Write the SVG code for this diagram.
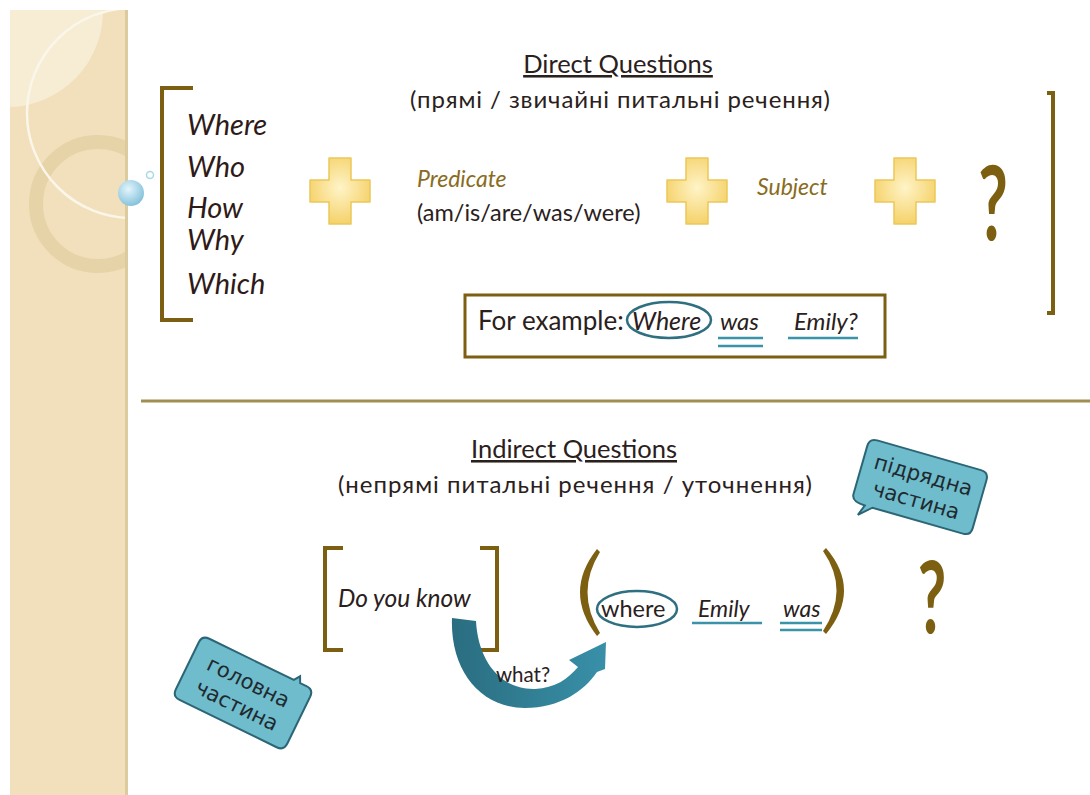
<svg xmlns="http://www.w3.org/2000/svg" width="1090" height="795" viewBox="0 0 1090 795">
<style>
.en{font-family:Lato,"Open Sans","DejaVu Sans",sans-serif;fill:#2a201c}
.ua{font-family:Lato,"Open Sans","DejaVu Sans",sans-serif;fill:#2a201c}
.it{font-style:italic}
.wh{font-family:Lato,"Open Sans",sans-serif;font-style:italic;font-size:29px;fill:#2e1a18}
.gold{fill:#8a6c1e}
.br{fill:none;stroke:#7d5f12;stroke-width:4}
.ul{stroke:#3a93a8;stroke-width:2.5}
.q{font-family:Lato,"DejaVu Sans",sans-serif;font-weight:bold;fill:#7d5f12}
.bub{fill:#6fbccd;stroke:#2c6676;stroke-width:2}
.bt{font-family:"DejaVu Sans","Open Sans",sans-serif;font-size:21px;fill:#1f2a2e}
</style>
<defs>
<radialGradient id="plusg" cx="50%" cy="45%" r="60%">
<stop offset="0" stop-color="#fff4c8"/>
<stop offset="1" stop-color="#f4cf62"/>
</radialGradient>
<radialGradient id="ball" cx="40%" cy="35%" r="65%">
<stop offset="0" stop-color="#e4f5fc"/>
<stop offset="1" stop-color="#86c3dc"/>
</radialGradient>
<linearGradient id="arrowg" x1="0" y1="0" x2="1" y2="0">
<stop offset="0" stop-color="#2a6d80"/>
<stop offset="1" stop-color="#3890a8"/>
</linearGradient>
<clipPath id="strip"><rect x="10" y="10" width="117" height="785"/></clipPath>
<path id="plus" d="M-11,-33 H11 V-11 H30 V11 H11 V33 H-11 V11 H-30 V-11 H-11 Z" fill="url(#plusg)" stroke="#ecc75a" stroke-width="1.5" stroke-linejoin="round"/>
</defs>
<rect width="1090" height="795" fill="#ffffff"/>
<g id="sidebar">
<rect x="10" y="10" width="117" height="785" fill="#f1e0bb"/>
<g clip-path="url(#strip)">
<path d="M10,10 H103 A96 96 0 0 1 10,107 Z" fill="#f7ecd4"/>
<circle cx="98" cy="204" r="62" fill="none" stroke="#e4d0a4" stroke-width="14" opacity="0.85"/>
<circle cx="132" cy="113" r="105" fill="none" stroke="#fbf6ea" stroke-width="2.5"/>
</g>
<rect x="125" y="10" width="3" height="785" fill="#dccb9f"/>
<circle cx="131" cy="193" r="13" fill="url(#ball)"/>
<circle cx="150" cy="175" r="3.5" fill="none" stroke="#a8d8ea" stroke-width="1.5"/>
</g>
<g id="direct-title">
<text class="en" x="618" y="73" font-size="25.5" text-anchor="middle" text-decoration="underline">Direct Questions</text>
<text class="ua" x="410" y="108" font-size="24" textLength="420" lengthAdjust="spacing">(прямі / звичайні питальні речення)</text>
</g>
<g id="wh-words">
<path class="br" d="M193,88 H162 V320 H193"/>
<text class="wh" x="187" y="135">Where</text>
<text class="wh" x="187" y="177">Who</text>
<text class="wh" x="187" y="218">How</text>
<text class="wh" x="187" y="250">Why</text>
<text class="wh" x="187" y="294">Which</text>
</g>
<g id="plus1"><use href="#plus" x="340" y="191"/></g>
<g id="predicate">
<text class="en it gold" x="417" y="187" font-size="23">Predicate</text>
<text class="en" x="417" y="221" font-size="23.5">(am/is/are/was/were)</text>
</g>
<g id="plus2"><use href="#plus" x="697" y="191"/></g>
<g id="subject"><text class="en it gold" x="757" y="195" font-size="23">Subject</text></g>
<g id="plus3"><use href="#plus" x="905" y="191"/></g>
<g id="qmark1"><text class="q" font-size="104" text-anchor="middle" transform="translate(993,240) scale(0.62,1)">?</text></g>
<path id="right-bracket" class="br" d="M1047,93 H1053 V313 H1047"/>
<g id="example">
<rect x="465" y="295" width="420" height="62" fill="#ffffff" stroke="#7d5f12" stroke-width="3"/>
<text class="en" x="478" y="330" font-size="26">For example:</text>
<ellipse cx="669" cy="320" rx="42" ry="18" fill="none" stroke="#2e6f80" stroke-width="2.5"/>
<text class="en it" x="632" y="330" font-size="25">Where</text>
<text class="en it" x="720" y="330" font-size="24">was</text>
<line class="ul" x1="718" y1="338" x2="763" y2="338"/>
<line class="ul" x1="718" y1="346" x2="763" y2="346"/>
<text class="en it" x="794" y="330" font-size="24">Emily?</text>
<line class="ul" x1="788" y1="338" x2="858" y2="338"/>
</g>
<line id="separator" x1="141" y1="401" x2="1090" y2="401" stroke="#a08f52" stroke-width="3"/>
<g id="indirect-title">
<text class="en" x="574" y="458" font-size="25.5" text-anchor="middle" text-decoration="underline">Indirect Questions</text>
<text class="ua" x="338" y="493" font-size="24" textLength="474" lengthAdjust="spacing">(непрямі питальні речення / уточнення)</text>
</g>
<g id="main-clause">
<path class="br" d="M343,548 H325 V650 H343"/>
<path class="br" d="M480,548 H497 V650 H480"/>
<text class="en it" x="338" y="607" font-size="24.5">Do you know</text>
</g>
<g id="sub-clause">
<path d="M597,549 Q563,592 597,636 L600,633 Q575,592 600,552 Z" fill="#7d5f12"/>
<path d="M826,548 Q862,590 826,634 L823,631 Q850,590 823,551 Z" fill="#7d5f12"/>
<ellipse cx="637" cy="609" rx="40" ry="18" fill="none" stroke="#2e6f80" stroke-width="2.5"/>
<text class="en" x="601" y="617" font-size="23.5">where</text>
<text class="en it" x="698" y="617" font-size="23">Emily</text>
<line class="ul" x1="692" y1="623" x2="762" y2="623"/>
<text class="en it" x="783" y="617" font-size="23">was</text>
<line class="ul" x1="780" y1="623" x2="822" y2="623"/>
<line class="ul" x1="780" y1="630" x2="822" y2="630"/>
</g>
<g id="qmark2"><text class="q" font-size="100" text-anchor="middle" transform="translate(932,633) scale(0.62,1)">?</text></g>
<g id="connectors">
<path d="M452,618 L476,621 C478,660 500,690 535,689 C555,688 568,679 578,667 L569,660 L606,642 L605,669 L597,672 C584,691 560,708 525,708 C480,708 450,670 452,618 Z" fill="url(#arrowg)"/>
<text class="en" x="496" y="682" font-size="20.5">what?</text>
</g>
<g id="callout-main" transform="translate(243,693) rotate(26)">
<path class="bub" d="M-54,-34 H40 L44,-40 L47,-34 H54 Q62,-34 62,-26 V26 Q62,34 54,34 H-54 Q-62,34 -62,26 V-26 Q-62,-34 -54,-34 Z"/>
<text class="bt" x="0" y="-5" text-anchor="middle">головна</text>
<text class="bt" x="0" y="21" text-anchor="middle">частина</text>
</g>
<g id="callout-sub" transform="translate(920,487) rotate(16)">
<path class="bub" d="M-54,-33 H54 Q62,-33 62,-25 V25 Q62,33 54,33 H-40 L-52,44 L-48,33 Q-62,33 -62,25 V-25 Q-62,-33 -54,-33 Z"/>
<text class="bt" x="0" y="-5" text-anchor="middle">підрядна</text>
<text class="bt" x="0" y="21" text-anchor="middle">частина</text>
</g>
</svg>
